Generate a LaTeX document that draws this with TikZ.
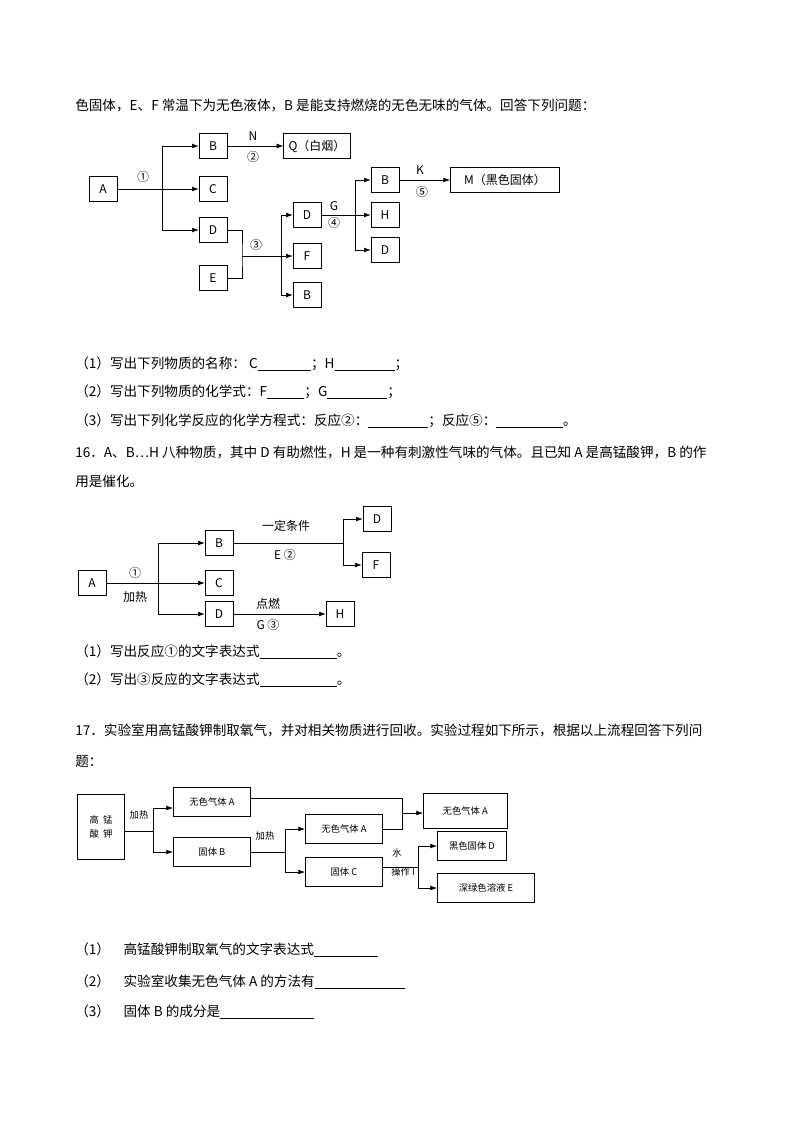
\documentclass[tikz,border=0pt]{standalone}
\usepackage{fontspec}
\setmainfont{Noto Sans CJK SC}
\usetikzlibrary{arrows.meta,positioning}
\newcommand{\blank}[1]{\underline{\hspace{#1}}}
\tikzset{
    box/.style={draw, minimum width=21pt, minimum height=19pt, inner sep=1pt, font=\fontsize{9}{10}\selectfont},
    smallbox/.style={draw, minimum height=22pt, inner sep=2pt, font=\fontsize{7}{8}\selectfont},
    line/.style={-{Latex[length=5pt,width=3.5pt]}},
    lab/.style={font=\fontsize{9}{10}\selectfont, inner sep=0pt},
    slab/.style={font=\fontsize{7}{8}\selectfont, inner sep=0pt},
    para/.style={anchor=west, inner sep=0pt, font=\fontsize{10.2}{12}\selectfont}
}
\begin{document}
\begin{tikzpicture}[x=0.75pt, y=-0.75pt]
        \useasboundingbox (0,0) rectangle (800,1132);
        % text lines
        \node[para] (t1) at (75,105) {色固体，E、F 常温下为无色液体，B 是能支持燃烧的无色无味的气体。回答下列问题：};
        \node[para] (t2) at (75,364) {（1）写出下列物质的名称： C\blank{40pt}；H\blank{45pt}；};
        \node[para] (t3) at (75,392) {（2）写出下列物质的化学式：F\blank{28pt}；G\blank{45pt}；};
        \node[para] (t4) at (75,421) {（3）写出下列化学反应的化学方程式：反应②：\blank{45pt}；反应⑤：\blank{50pt}。};
        \node[para] (t5) at (75,452) {16．A、B…H 八种物质，其中 D 有助燃性，H 是一种有刺激性气味的气体。且已知 A 是高锰酸钾，B 的作};
        \node[para] (t6) at (75,481) {用是催化。};
        \node[para] (t7) at (75,652) {（1）写出反应①的文字表达式\blank{58pt}。};
        \node[para] (t8) at (75,680) {（2）写出③反应的文字表达式\blank{58pt}。};
        \node[para] (t9) at (75,730) {17．实验室用高锰酸钾制取氧气，并对相关物质进行回收。实验过程如下所示，根据以上流程回答下列问};
        \node[para] (t10) at (75,762) {题：};
        \node[para] (t11) at (75,950) {（1）\quad 高锰酸钾制取氧气的文字表达式\blank{48pt}};
        \node[para] (t12) at (75,982) {（2）\quad 实验室收集无色气体 A 的方法有\blank{68pt}};
        \node[para] (t13) at (75,1012) {（3）\quad 固体 B 的成分是\blank{70pt}};

        % diagram 15
        \node[box] (a1) at (103,189) {A};
        \node[box] (b1) at (213,146) {B};
        \node[box] (c1) at (213,189) {C};
        \node[box] (d1) at (213,230) {D};
        \node[box] (e1) at (213,278) {E};
        \node[box, minimum width=50pt] (q1) at (317,146) {Q（白烟）};
        \node[box] (d2) at (307,215) {D};
        \node[box] (f2) at (307,256) {F};
        \node[box] (b2) at (307,295) {B};
        \node[box] (b3) at (385,180) {B};
        \node[box] (h3) at (385,215) {H};
        \node[box] (d3) at (385,250) {D};
        \node[box, minimum width=82pt] (m3) at (505,180) {M（黑色固体）};
        \coordinate (j1) at (162,189);
        \coordinate (j2) at (242,256);
        \coordinate (j3) at (281,256);
        \coordinate (j4) at (355,215);
        \draw (a1) -- (j1);
        \draw[line] (j1) |- (b1);
        \draw[line] (a1) -- (c1);
        \draw[line] (j1) |- (d1);
        \draw[line] (b1) -- (q1);
        \draw (d1.east) -| (j2) |- (e1.east);
        \draw[line] (j2) -- (f2);
        \draw[line] (j3) |- (d2);
        \draw[line] (j3) |- (b2);
        \draw[line] (j4) |- (b3);
        \draw[line] (d2) -- (h3);
        \draw[line] (j4) |- (d3);
        \draw[line] (b3) -- (m3);
        \node[lab] (l1) at (143,177) {①};
        \node[lab] (l2) at (253,136) {N};
        \node[lab] (l3) at (253,157) {②};
        \node[lab] (l4) at (256,245) {③};
        \node[lab] (l5) at (334,206) {G};
        \node[lab] (l6) at (334,223) {④};
        \node[lab] (l7) at (420,170) {K};
        \node[lab] (l8) at (422,192) {⑤};

        % diagram 16
        \node[box] (a4) at (92,583) {A};
        \node[box] (b4) at (219,543) {B};
        \node[box] (c4) at (219,583) {C};
        \node[box] (d4) at (219,614) {D};
        \node[box] (d5) at (377,519) {D};
        \node[box] (f5) at (376,565) {F};
        \node[box] (h5) at (340,614) {H};
        \coordinate (j5) at (158,583);
        \coordinate (j6) at (343,543);
        \draw[line] (j5) |- (b4);
        \draw[line] (a4) -- (c4);
        \draw[line] (j5) |- (d4);
        \draw (b4) -- (j6);
        \draw[line] (j6) |- (d5);
        \draw[line] (j6) |- (f5);
        \draw[line] (d4) -- (h5);
        \node[lab] (l9) at (135,573) {①};
        \node[lab] (l10) at (135,597) {加热};
        \node[lab] (l11) at (286,526) {一定条件};
        \node[lab] (l12) at (285,555) {E ②};
        \node[lab] (l13) at (268,604) {点燃};
        \node[lab] (l14) at (268,625) {G ③};

        % diagram 17
        \node[smallbox, minimum width=35pt, minimum height=49pt, align=center] (k6) at (101,827) {高\ \ 锰\\[3pt]酸\ \ 钾};
        \node[smallbox, minimum width=58pt, anchor=west] (a6) at (173,802) {无色气体 A\hspace{16pt}};
        \node[smallbox, minimum width=58pt, anchor=west] (b6) at (173,852) {固体 B\hspace{28pt}};
        \node[smallbox, minimum width=58pt, anchor=west] (a7) at (305,829) {无色气体 A\hspace{16pt}};
        \node[smallbox, minimum width=58pt, anchor=west] (c7) at (305,872) {固体 C\hspace{28pt}};
        \node[smallbox, minimum width=63pt, minimum height=26pt, anchor=west] (a8) at (423,811) {无色气体\ A\hspace{16pt}};
        \node[smallbox, minimum width=52pt, anchor=west] (d8) at (437,846) {黑色固体 D\hspace{6pt}};
        \node[smallbox, minimum width=73pt, anchor=west] (e8) at (437,888) {深绿色溶液 E\hspace{14pt}};
        \coordinate (j7) at (153,831);
        \coordinate (j8) at (285,852);
        \coordinate (j9) at (402,813);
        \coordinate (j10) at (418,867);
        \draw (k6.east |- j7) -- (j7);
        \draw[line] (j7) |- ([yshift=-4.5pt]a6.west);
        \draw[line] (j7) |- (b6.west);
        \draw (b6) -- (j8);
        \draw[line] (j8) |- (a7.west);
        \draw[line] (j8) |- (c7.west);
        \draw ([yshift=3pt]a6.east) -| (j9);
        \draw (a7.east) -| (j9);
        \draw[line] (j9) -- (j9 -| a8.west);
        \draw (c7.east |- j10) -- (j10);
        \draw[line] (j10) |- (d8.west);
        \draw[line] (j10) |- (e8.west);
        \node[slab] (l15) at (139,815) {加热};
        \node[slab] (l16) at (265,836) {加热};
        \node[slab] (l17) at (397,853) {水};
        \node[slab] (l18) at (403,872) {操作 I};
\end{tikzpicture}
\end{document}
